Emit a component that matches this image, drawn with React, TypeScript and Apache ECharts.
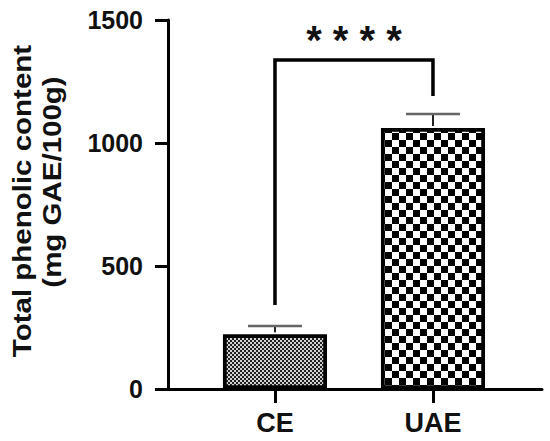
import React, { useEffect, useRef } from "react";
import * as echarts from "echarts";

const categories = ["CE", "UAE"];
const categoryPositions = [1, 2];
const means = [222, 1061];
const errorTops = [256, 1118];
const yTickValues = [0, 500, 1000, 1500];
const yAxisTitleLines = ["Total phenolic content", "(mg GAE/100g)"];
const significanceLabel = "* * * *";
const bracketLevel = 1337;
const bracketLegBottoms = [341, 1191];

const FONT = '"Liberation Sans", Arial, sans-serif';

export default function App() {
  const ref = useRef<HTMLDivElement>(null);
  useEffect(() => {
    if (!ref.current) return;
    const chart = echarts.init(ref.current, null, { renderer: "svg" });

    const ceDecal = {
      symbol: "rect",
      symbolSize: 1,
      dashArrayX: [[2, 2], [0, 2, 2, 0]],
      dashArrayY: [2, 0],
      color: "#222",
      backgroundColor: "#d0d0d0",
      rotation: 0,
    };
    const uaeDecal = {
      symbol: "rect",
      symbolSize: 1,
      dashArrayX: [[7, 7], [0, 7, 7, 0]],
      dashArrayY: [7, 0],
      color: "#000",
      backgroundColor: "#fff",
      rotation: 0,
    };

    const barData = categoryPositions.map((x, i) => ({
      value: [x, means[i]],
      itemStyle: { decal: i === 0 ? ceDecal : uaeDecal, color: i === 0 ? "#d0d0d0" : "#fff" },
    }));
    const errData = categoryPositions.map((x, i) => [x, means[i], errorTops[i]]);

    chart.setOption({
      animation: false,
      backgroundColor: "#fff",
      grid: { left: 168, right: 8, top: 20, bottom: 52, containLabel: false },
      xAxis: {
        type: "value",
        min: 0.323,
        max: 2.69,
        splitLine: { show: false },
        axisLine: { show: true, onZero: false, lineStyle: { color: "#000", width: 3 } },
        axisTick: { show: true, customValues: categoryPositions, length: 14, lineStyle: { color: "#000", width: 3 } },
        axisLabel: {
          customValues: categoryPositions,
          formatter: (v: number) => categories[categoryPositions.indexOf(Math.round(v))] ?? "",
          color: "#111",
          fontFamily: FONT,
          fontWeight: "bold",
          fontSize: 27,
          margin: 20,
        },
      },
      yAxis: {
        type: "value",
        min: 0,
        max: 1500,
        interval: 500,
        splitLine: { show: false },
        axisLine: { show: true, lineStyle: { color: "#000", width: 3 } },
        axisTick: { show: true, length: 13, lineStyle: { color: "#000", width: 3 } },
        axisLabel: {
          customValues: yTickValues,
          formatter: (v: number) => String(v),
          color: "#111",
          fontFamily: FONT,
          fontWeight: "bold",
          fontSize: 25,
          margin: 25,
        },
      },
      graphic: [
        {
          type: "text",
          x: 22,
          y: 201,
          rotation: Math.PI / 2,
          scaleX: 1.18,
          style: {
            text: yAxisTitleLines[0],
            font: `bold 25px ${FONT}`,
            fill: "#111",
            align: "center",
            verticalAlign: "middle",
          },
        },
        {
          type: "text",
          x: 52,
          y: 182,
          rotation: Math.PI / 2,
          scaleX: 1.18,
          style: {
            text: yAxisTitleLines[1],
            font: `bold 25px ${FONT}`,
            fill: "#111",
            align: "center",
            verticalAlign: "middle",
          },
        },
      ],
      series: [
        {
          type: "bar",
          data: barData,
          barWidth: 104,
          itemStyle: { borderColor: "#000", borderWidth: 3.5 },
          z: 2,
        },
        {
          type: "custom",
          data: errData,
          encode: { x: 0, y: [1, 2] },
          z: 3,
          renderItem: (params: any, api: any) => {
            const x = api.value(0);
            const base = api.coord([x, api.value(1)]);
            const top = api.coord([x, api.value(2)]);
            const hw = 27;
            return {
              type: "group",
              children: [
                { type: "line", shape: { x1: base[0], y1: base[1] - 2, x2: top[0], y2: top[1] }, style: { stroke: "#222", lineWidth: 2 } },
                { type: "line", shape: { x1: top[0] - hw, y1: top[1], x2: top[0] + hw, y2: top[1] }, style: { stroke: "#666", lineWidth: 2.5 } },
              ],
            };
          },
        },
        {
          type: "custom",
          data: [[categoryPositions[0], categoryPositions[1], bracketLevel, bracketLegBottoms[0], bracketLegBottoms[1]]],
          encode: { x: [0, 1], y: [2, 3, 4] },
          z: 4,
          renderItem: (params: any, api: any) => {
            const pL = api.coord([api.value(0), api.value(3)]);
            const pLT = api.coord([api.value(0), api.value(2)]);
            const pRT = api.coord([api.value(1), api.value(2)]);
            const pR = api.coord([api.value(1), api.value(4)]);
            return {
              type: "group",
              children: [
                {
                  type: "polyline",
                  shape: { points: [pL, pLT, pRT, pR] },
                  style: { stroke: "#000", lineWidth: 3.5, fill: "none", lineJoin: "miter" },
                },
                {
                  type: "text",
                  x: (pLT[0] + pRT[0]) / 2,
                  y: pLT[1] - 20,
                  style: {
                    text: significanceLabel,
                    font: `bold 40px ${FONT}`,
                    fill: "#111",
                    align: "center",
                    verticalAlign: "middle",
                  },
                },
              ],
            };
          },
        },
      ],
    });
    return () => chart.dispose();
  }, []);
  return <div ref={ref} style={{ position: "fixed", left: 0, top: 0, width: 550, height: 441 }} />;
}
